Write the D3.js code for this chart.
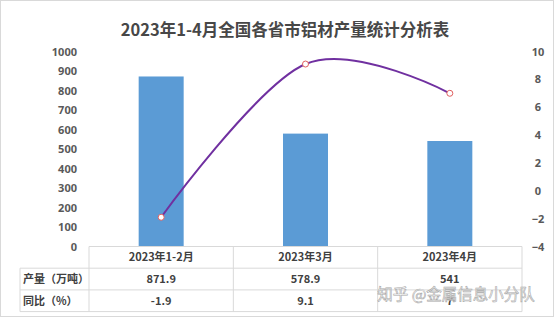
<!DOCTYPE html>
<html>
<head>
<meta charset="utf-8">
<script src="https://cdn.jsdelivr.net/npm/d3@7"></script>
<style>
  body { margin: 0; background: #fff; }
  svg text { font-family: "Noto Sans CJK SC", "Noto Sans", sans-serif; }
</style>
</head>
<body>
<svg id="chart" width="554" height="318"></svg>
<script>
const categories = ["2023年1-2月", "2023年3月", "2023年4月"];
const output = [871.9, 578.9, 541];
const yoy = [-1.9, 9.1, 7];
const outputLabels = ["871.9", "578.9", "541"];
const yoyLabels = ["-1.9", "9.1", "7"];
const leftTicks = [0, 100, 200, 300, 400, 500, 600, 700, 800, 900, 1000];
const rightTicks = [-4, -2, 0, 2, 4, 6, 8, 10];
const rowHeaders = ["产量（万吨）", "同比（%）"];

(() => {
    let margin = {top: 51.5, left: 89, right: 32, bottom: 71.5},
        W = 554, H = 318,
        width = W - margin.left - margin.right,
        height = H - margin.top - margin.bottom,
        x = d3.scaleBand().domain(categories).range([0, width]),
        yL = d3.scaleLinear().domain([0, 1000]).range([height, 0]),
        yR = d3.scaleLinear().domain([-4, 10]).range([height, 0]);

    let svg = d3.select("#chart");

    // outer frame
    svg.append("rect")
        .attr("x", 0.5).attr("y", 0.5)
        .attr("width", W - 1).attr("height", H - 2)
        .attr("fill", "#fff")
        .attr("stroke", "#d9d9d9");

    svg.append("text")
        .attr("x", 285).attr("y", 36)
        .attr("text-anchor", "middle")
        .attr("font-size", 16.5)
        .attr("font-weight", "bold")
        .attr("fill", "#474747")
        .text("2023年1-4月全国各省市铝材产量统计分析表");

    let g = svg.append("g")
        .attr("transform", "translate(" + margin.left + "," + margin.top + ")");

    // left axis
    let axL = g.append("g")
        .call(d3.axisLeft(yL).tickValues(leftTicks).tickFormat(d3.format("d")).tickSize(0).tickPadding(12));
    axL.select(".domain").remove();
    axL.selectAll("text")
        .attr("font-size", 11).attr("font-weight", "bold").attr("fill", "#595959")
        .style("font-family", "'Noto Sans', sans-serif");

    // right axis
    let axR = g.append("g")
        .attr("transform", "translate(" + width + ",0)")
        .call(d3.axisRight(yR).tickValues(rightTicks).tickSize(0).tickPadding(0));
    axR.select(".domain").remove();
    axR.selectAll("text")
        .attr("x", 16)
        .attr("text-anchor", "middle")
        .attr("font-size", 11).attr("font-weight", "bold").attr("fill", "#595959")
        .style("font-family", "'Noto Sans', sans-serif");

    // bars
    let bw = 45;
    g.selectAll(".bar")
        .data(categories)
        .enter().append("rect")
        .attr("class", "bar")
        .attr("x", (d) => x(d) + x.bandwidth() / 2 - bw / 2)
        .attr("width", bw)
        .attr("y", (d, i) => yL(output[i]))
        .attr("height", (d, i) => height - yL(output[i]))
        .attr("fill", "#5b9bd5");

    // smooth line
    let pts = categories.map((d, i) => [x(d) + x.bandwidth() / 2, yR(yoy[i])]);
    g.append("path")
        .datum(pts)
        .attr("d", d3.line().curve(d3.curveCardinal.tension(0)))
        .attr("fill", "none")
        .attr("stroke", "#7030a0")
        .attr("stroke-width", 2);

    g.selectAll(".dot")
        .data(pts)
        .enter().append("circle")
        .attr("cx", (d) => d[0])
        .attr("cy", (d) => d[1])
        .attr("r", 3)
        .attr("fill", "#fff")
        .attr("stroke", "#e06060")
        .attr("stroke-width", 1);

    // data table
    let rowH = 21.7,
        tLeft = 20 - margin.left,
        tc = "#d9d9d9",
        t = g.append("g").attr("transform", "translate(0," + height + ")");

    [0, 1, 2, 3].forEach((r) => {
        t.append("line")
            .attr("x1", r === 0 ? 0 : tLeft).attr("x2", width)
            .attr("y1", r * rowH).attr("y2", r * rowH)
            .attr("stroke", tc);
    });
    t.append("line")
        .attr("x1", tLeft).attr("x2", tLeft)
        .attr("y1", rowH).attr("y2", 3 * rowH)
        .attr("stroke", tc);
    [0, 1, 2, 3].forEach((c) => {
        let xx = c * x.bandwidth();
        t.append("line")
            .attr("x1", xx).attr("x2", xx)
            .attr("y1", 0).attr("y2", 3 * rowH)
            .attr("stroke", tc);
    });

    let cellText = (sel) => sel
        .attr("font-size", 11)
        .attr("font-weight", "bold")
        .attr("fill", "#404040")
        .attr("dy", "0.35em");

    t.selectAll(".cat")
        .data(categories)
        .enter().append("text")
        .attr("x", (d) => x(d) + x.bandwidth() / 2)
        .attr("y", rowH / 2)
        .attr("text-anchor", "middle")
        .call(cellText)
        .text((d) => d);

    [outputLabels, yoyLabels].forEach((row, r) => {
        t.append("text")
            .attr("x", tLeft + 3)
            .attr("y", rowH * (r + 1.5))
            .call(cellText)
            .text(rowHeaders[r]);
        t.selectAll(".v" + r)
            .data(row)
            .enter().append("text")
            .attr("x", (d, i) => x(categories[i]) + x.bandwidth() / 2)
            .attr("y", rowH * (r + 1.5))
            .attr("text-anchor", "middle")
            .call(cellText)
            .text((d) => d);
    });

    // watermark
    svg.append("text")
        .attr("x", 456).attr("y", 300)
        .attr("text-anchor", "middle")
        .attr("font-size", 15.5)
        .attr("fill", "#ffffff")
        .attr("fill-opacity", 0.85)
        .attr("stroke", "#a8a8a8")
        .attr("stroke-width", 0.6)
        .text("知乎 @金属信息小分队");
})();
</script>
</body>
</html>
